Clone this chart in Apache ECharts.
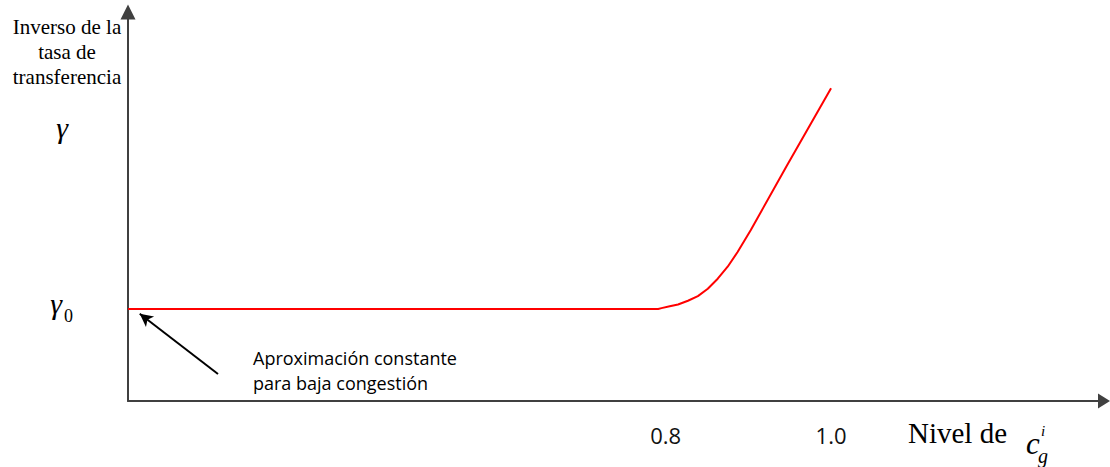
<!DOCTYPE html>
<html><head><meta charset="utf-8">
<script src="https://cdn.jsdelivr.net/npm/echarts@6/dist/echarts.min.js"></script>
<style>html,body{margin:0;padding:0;background:#fff}#c{width:1110px;height:467px}</style>
</head><body><div id="c"></div>
<script>
// curve: inverse of transfer rate vs. level of c_g^i
const curveX = [0.15, 0.791, 0.795, 0.805, 0.815, 0.827, 0.839, 0.851, 0.863, 0.875, 0.887, 0.903, 0.946, 1.0];
const curveY = [1, 1, 1.01, 1.03, 1.05, 1.09, 1.14, 1.22, 1.33, 1.46, 1.62, 1.86, 2.55, 3.4];
const xTickValues = [0.8, 1.0];
const yTickValues = [1, 2.91];
const yTickLabels = ['γ0', 'γ'];
const arrowFrom = [0.2588, 0.294];
const arrowTo = [0.1642, 0.949];
const yTitle = ['Inverso de la', 'tasa de', 'transferencia'];
const xTitle = 'Nivel de';
const xSymbol = ['c', 'i', 'g'];
const annotation = ['Aproximación constante', 'para baja congestión'];

const chart = echarts.init(document.getElementById('c'), null, {renderer: 'svg'});
const axisColor = '#404040';
const serif = 'Liberation Serif';
const sans = 'Open Sans';

function txt(x, y, text, size, family, opts) {
  return Object.assign({type: 'text', x: x, y: y, silent: true,
    style: Object.assign({text: text, fontSize: size, fontFamily: family, fill: '#000', align: 'left', verticalAlign: 'middle'}, opts || {})});
}

chart.setOption({
  animation: false,
  backgroundColor: '#fff',
  grid: {left: 128, right: 6, top: 12, bottom: 66},
  xAxis: {
    type: 'value', min: 0.15, max: 1.33,
    axisLine: {show: true, symbol: ['none', 'triangle'], symbolSize: [15, 12], lineStyle: {color: axisColor, width: 2}},
    axisTick: {show: false},
    splitLine: {show: false},
    axisLabel: {
      customValues: xTickValues, margin: 23,
      formatter: v => v.toFixed(1),
      fontFamily: sans, fontSize: 22, color: '#111'
    }
  },
  yAxis: {
    type: 'value', min: 0, max: 4.23,
    axisLine: {show: true, symbol: ['none', 'triangle'], symbolSize: [15, 15], lineStyle: {color: axisColor, width: 2}},
    axisTick: {show: false},
    splitLine: {show: false},
    axisLabel: {
      customValues: yTickValues, margin: 55,
      formatter: v => {
        const lab = yTickLabels[yTickValues.indexOf(v)];
        return lab.length > 1 ? '{g|' + lab[0] + '}{s|' + lab.slice(1) + '}' : '{g2|' + lab + '}';
      },
      rich: {
        g: {fontFamily: serif, fontStyle: 'italic', fontSize: 30, color: '#000', lineHeight: 30, padding: [0, 0, 12, 0], verticalAlign: 'middle'},
        g2: {fontFamily: serif, fontStyle: 'italic', fontSize: 30, color: '#000', lineHeight: 30, padding: [0, 5, 12, 0], verticalAlign: 'middle'},
        s: {fontFamily: serif, fontSize: 18, color: '#000', lineHeight: 18, padding: [14, 0, 0, 2], verticalAlign: 'middle'}
      }
    }
  },
  series: [{
    type: 'line',
    data: curveX.map((x, i) => [x, curveY[i]]),
    showSymbol: false,
    smooth: false,
    lineStyle: {color: '#ff0000', width: 2},
    silent: true,
    markLine: {
      silent: true,
      symbol: ['none', 'arrow'],
      symbolSize: [10, 13],
      label: {show: false},
      lineStyle: {color: '#000', width: 2, type: 'solid'},
      data: [[{coord: arrowFrom}, {coord: arrowTo}]]
    }
  }],
  graphic: [
    txt(67, 14, yTitle.join('\n'), 21, serif, {align: 'center', verticalAlign: 'top', lineHeight: 25}),
    txt(253, 345, annotation.join('\n'), 18, sans, {verticalAlign: 'top', lineHeight: 25}),
    txt(908, 433, xTitle, 29, serif),
    txt(1026, 443, xSymbol[0], 31, serif, {fontStyle: 'italic'}),
    txt(1041, 431, xSymbol[1], 15, serif, {fontStyle: 'italic'}),
    txt(1038, 456, xSymbol[2], 20, serif, {fontStyle: 'italic'})
  ]
});
</script></body></html>
